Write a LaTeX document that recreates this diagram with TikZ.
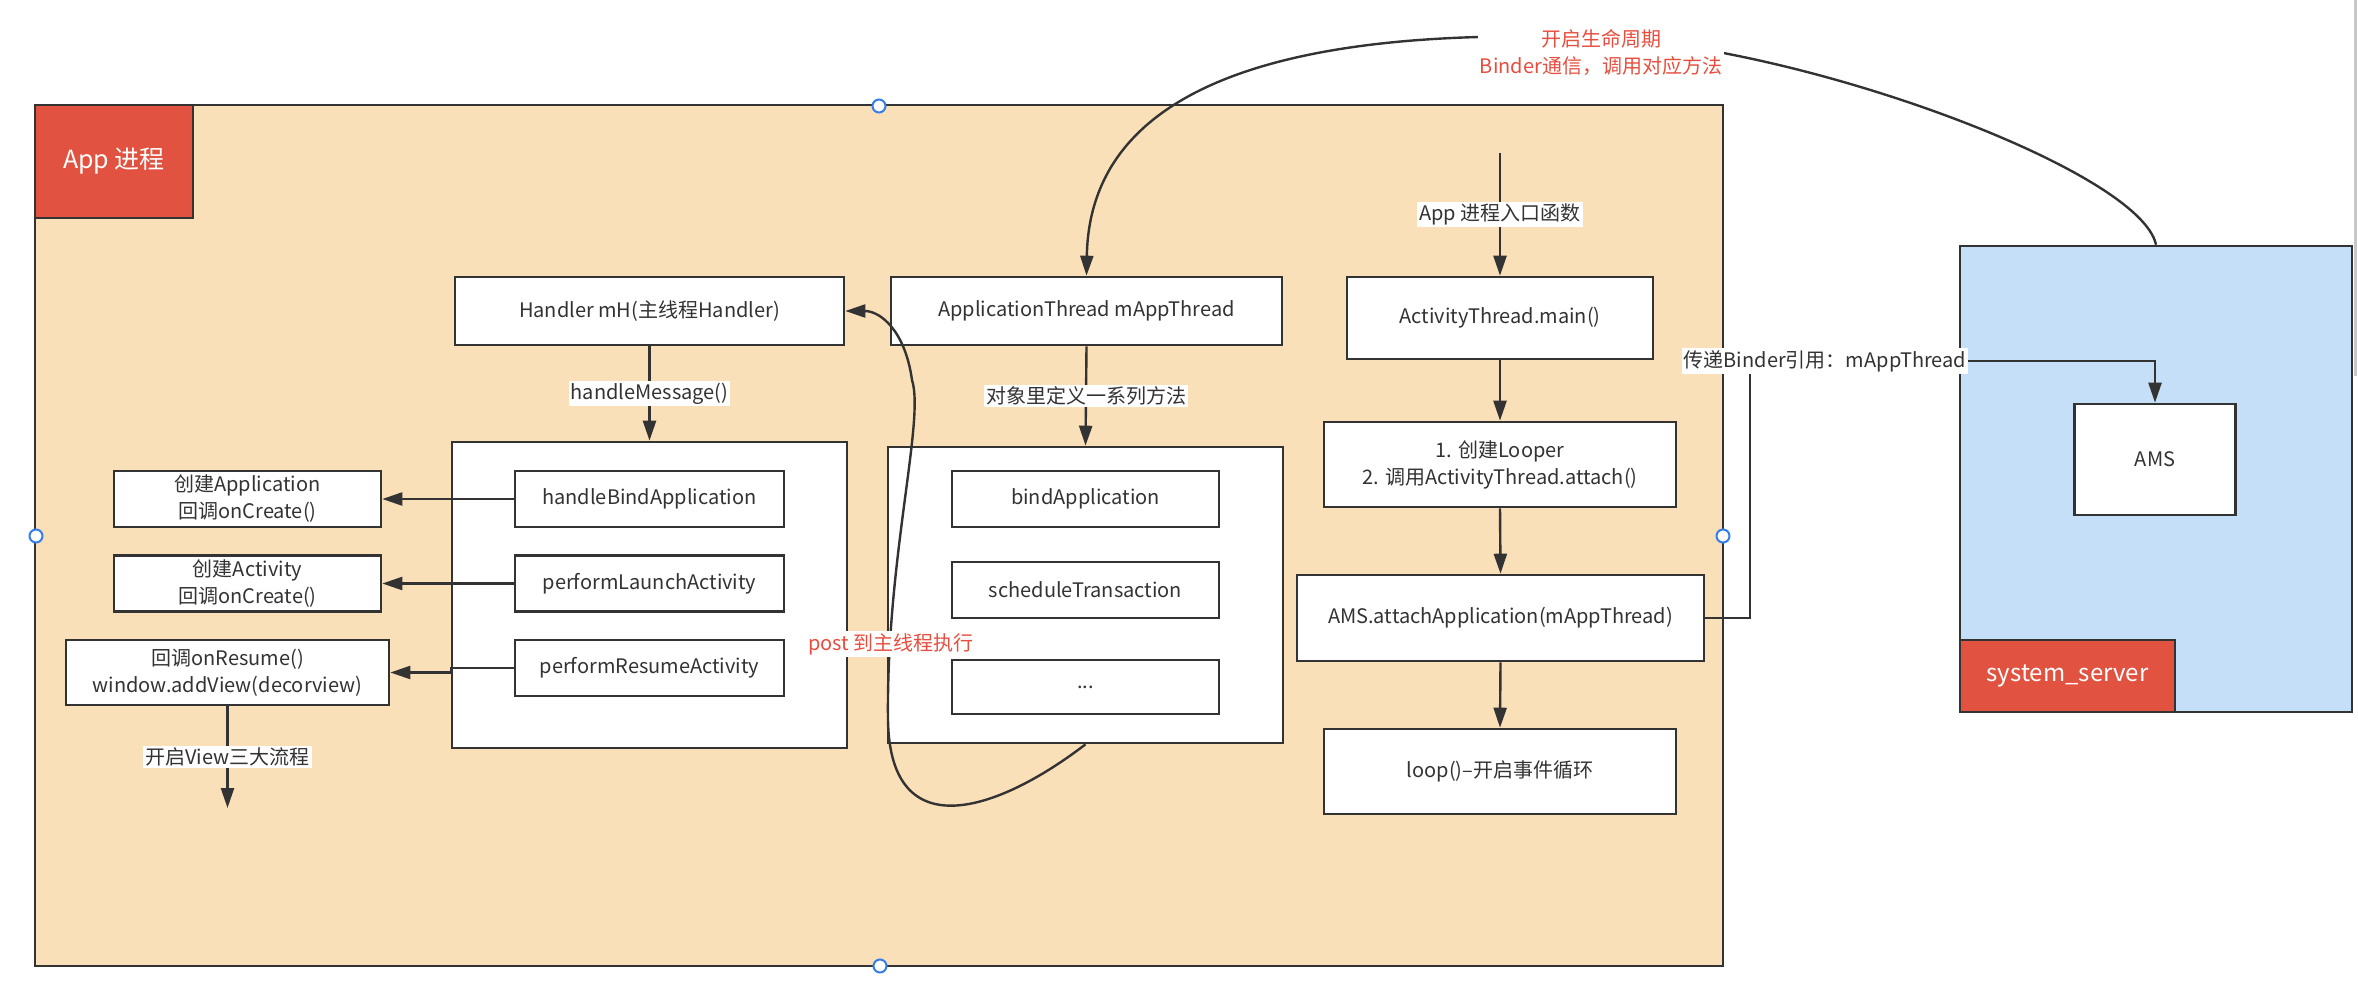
\documentclass[tikz,border=0pt]{standalone}
\usepackage{fontspec}
\setmainfont{Noto Sans CJK SC}
\usetikzlibrary{arrows.meta}
\definecolor{linec}{HTML}{333333}
\definecolor{peach}{RGB}{250,224,184}
\definecolor{redbox}{RGB}{225,82,64}
\definecolor{bluebox}{RGB}{196,223,247}
\definecolor{redtext}{RGB}{232,78,64}
\definecolor{handlec}{RGB}{52,125,235}
\definecolor{scrollc}{RGB}{200,200,200}
\begin{document}
\begin{tikzpicture}[x=1pt,y=-1pt,
  box/.style={draw=linec, line width=2.6pt, fill=white, inner sep=0pt, align=center, text=linec, font=\fontsize{20}{27}\selectfont},
  redlbl/.style={draw=linec, line width=2.6pt, fill=redbox, inner sep=0pt, text=white, font=\fontsize{25}{30}\selectfont},
  lbl/.style={fill=white, inner sep=2pt, text=linec, font=\fontsize{20}{24}\selectfont},
  arr/.style={draw=linec, line width=2.4pt, -{Triangle[length=20pt,width=13pt]}},
  plain/.style={draw=linec, line width=2.4pt},
  handlenode/.style={circle, draw=handlec, fill=white, line width=2pt, minimum size=13pt, inner sep=0pt}
]
\useasboundingbox (0,0) rectangle (2358,994);

% scroll line at right edge
\draw[scrollc, line width=3pt] (2355,0) -- (2355,376);

% App process container
\node[draw=linec, line width=2.6pt, fill=peach, minimum width=1688pt, minimum height=861pt, inner sep=0pt] (app) at (879,535.5) {};
\node[redlbl, minimum width=158pt, minimum height=113pt] (applbl) at (114,161.5) {App 进程};

% system_server container
\node[draw=linec, line width=2.6pt, fill=bluebox, minimum width=392pt, minimum height=466pt, inner sep=0pt] (ss) at (2156,479) {};
\node[redlbl, minimum width=215pt, minimum height=72pt, font=\fontsize{24}{28}\selectfont] (sslbl) at (2067.5,676) {system\_server};
\node[box, minimum width=161pt, minimum height=111pt] (ams) at (2155,459.5) {AMS};

% middle columns
\node[box, minimum width=389pt, minimum height=68pt] (hm) at (649.5,311) {Handler mH(主线程Handler)};
\node[box, minimum width=391pt, minimum height=68pt] (at) at (1086.5,311) {ApplicationThread mAppThread};
\node[box, minimum width=395pt, minimum height=306pt] (lb) at (649.5,595) {};
\node[box, minimum width=395pt, minimum height=296pt] (rb) at (1085.5,595) {};

\node[box, minimum width=269pt, minimum height=56pt] (hba) at (649.5,499) {handleBindApplication};
\node[box, minimum width=269pt, minimum height=56pt] (pla) at (649.5,583.5) {performLaunchActivity};
\node[box, minimum width=269pt, minimum height=56pt] (pra) at (649.5,668) {performResumeActivity};

\node[box, minimum width=267pt, minimum height=56pt] (ba) at (1085.5,499) {bindApplication};
\node[box, minimum width=267pt, minimum height=56pt] (st) at (1085.5,590) {scheduleTransaction};
\node[box, minimum width=267pt, minimum height=54pt] (dots) at (1085.5,687) {...};

% left result boxes
\node[box, minimum width=267pt, minimum height=56pt] (ca) at (247.5,499) {创建Application\\回调onCreate()};
\node[box, minimum width=267pt, minimum height=56pt] (cac) at (247.5,583.5) {创建Activity\\回调onCreate()};
\node[box, minimum width=323pt, minimum height=65pt] (cr) at (227.5,672.5) {回调onResume()\\window.addView(decorview)};

% right column
\node[box, minimum width=306pt, minimum height=82pt] (main) at (1500,318) {ActivityThread.main()};
\node[box, minimum width=352pt, minimum height=85pt] (looper) at (1500,464.5) {1. 创建Looper\\2. 调用ActivityThread.attach()};
\node[box, minimum width=407pt, minimum height=86pt] (aat) at (1500.5,618) {AMS.attachApplication(mAppThread)};
\node[box, minimum width=352pt, minimum height=85pt] (loop) at (1500,771.5) {loop()–开启事件循环};

% connectors: left part
\draw[arr] (hm.south) -- (lb.north) node[midway, lbl] {handleMessage()};
\draw[arr] (at.south) -- (rb.north) node[midway, lbl] {对象里定义一系列方法};
\draw[arr] (hba.west) -- (ca.east);
\draw[arr] (pla.west) -- (cac.east);
\draw[arr] (pra.west) -- (lb.west |- pra.west) -- (lb.west |- cr.east) -- (cr.east);
\coordinate (vend) at (227.5,808);
\draw[arr] (cr.south) -- (vend) node[midway, lbl] {开启View三大流程};

% connectors: right column
\coordinate (entry) at (1500,153);
\draw[arr] (entry) -- (main.north) node[midway, lbl] {App 进程入口函数};
\draw[arr] (main.south) -- (looper.north);
\draw[arr] (looper.south) -- (aat.north);
\draw[arr] (aat.south) -- (loop.north);

% binder reference connector
\coordinate (b1) at (1750,361);
\draw[arr] (aat.east) -| (b1) -| (ams.north);
\node[lbl] (binderlbl) at (1825,361) {传递Binder引用：mAppThread};

% post curve
\draw[arr] (rb.south) .. controls (1000,810) and (890,850) .. (888,720)
  .. controls (886,560) and (925,420) .. (912,380)
  .. controls (905,330) and (880,311) .. (hm.east);
\node[lbl, text=redtext] (postlbl) at (891,644) {post 到主线程执行};

% lifecycle curve
\draw[arr] (ss.north) .. controls (2140,170) and (1800,45) .. (1601,38)
  .. controls (1350,28) and (1090,60) .. (at.north);
\node[lbl, text=redtext, align=center, font=\fontsize{20}{27}\selectfont] (life) at (1601,53) {开启生命周期\\Binder通信，调用对应方法};

% selection handles
\node[handlenode] (h1) at (879,106) {};
\node[handlenode] (h2) at (36,536) {};
\node[handlenode] (h3) at (1723,536) {};
\node[handlenode] (h4) at (880,966) {};
\end{tikzpicture}
\end{document}
